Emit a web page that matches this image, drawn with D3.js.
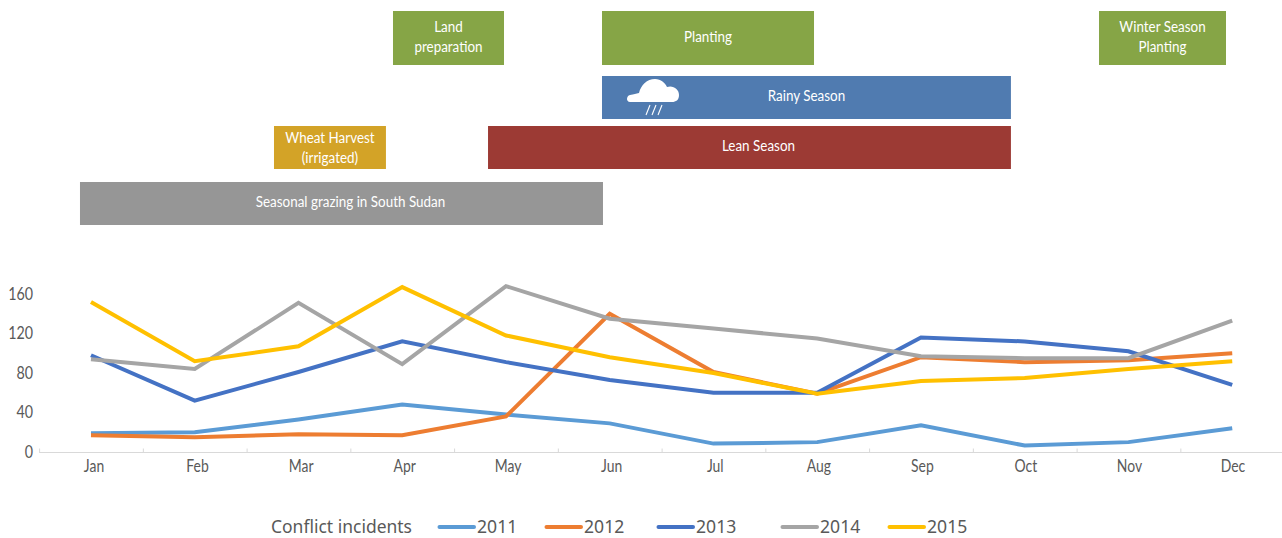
<!DOCTYPE html>
<html><head><meta charset="utf-8">
<script src="https://cdn.jsdelivr.net/npm/d3@7"></script>
<style>
html,body{margin:0;padding:0;background:#fff}
svg{display:block}
text{font-family:Lato,"Noto Sans",sans-serif}
</style></head><body><svg id="c" width="1282" height="538"></svg>
<script>
const months=["Jan","Feb","Mar","Apr","May","Jun","Jul","Aug","Sep","Oct","Nov","Dec"];
const years=["2011","2012","2013","2014","2015"];
const v2011=[19,20,33,48,38,29,8.5,10,27,6.5,10,24];
const v2012=[17,15,18,17,36,140,81,59,96,91,93,100];
const v2013=[98,52,81,112,91,73,60,60,116,112,102,68];
const v2014=[94,84,151,89,168,135,125,115,97,95,95,133];
const v2015=[152,92,107,167,118,96,80,59,72,75,84,92];
const yTicks=[0,40,80,120,160];
const colors=["#5B9BD5","#ED7D31","#4472C4","#A5A5A5","#FFC000"];
const seasonNames=[["Land","preparation"],["Planting"],["Winter Season","Planting"],["Rainy Season"],["Lean Season"],["Wheat Harvest","(irrigated)"],["Seasonal grazing in South Sudan"]];
const seasonStart=[3.411,5.4255,10.216,5.4255,4.327,2.264,0.394];
const seasonEnd=[4.481,7.469,11.440,9.367,9.367,3.343,5.435];
const seasonRow=[0,0,0,1,2,2,3];
const seasonColor=["#86A546","#86A546","#86A546","#507BB0","#9C3A34","#D3A327","#969696"];

const svg=d3.select("#c");
const x=d3.scaleLinear().domain([0,12]).range([39.1,1284.1]);
const y=d3.scaleLinear().domain([0,160]).range([452,294]);
const rowTop=d3.scaleOrdinal().domain([0,1,2,3]).range([11,76,126,182]);
const rowH=d3.scaleOrdinal().domain([0,1,2,3]).range([54,43,43,43]);
const TK=0.84;

// season boxes
const labelDx=[0,0,0,0,9,0,9];
const labelDy=[0,0,0,-1,-1,1.5,-1];
seasonNames.forEach((lines,i)=>{
  const r=seasonRow[i],x0=x(seasonStart[i]),x1=x(seasonEnd[i]),t=rowTop(r),h=rowH(r);
  svg.append("rect").attr("x",x0).attr("y",t).attr("width",x1-x0).attr("height",h).attr("fill",seasonColor[i]);
  const cx=(x0+x1)/2+labelDx[i],cy=t+h/2-1+labelDy[i];
  lines.forEach((l,j)=>{
    svg.append("text").attr("transform",`translate(${cx},${cy+(j-(lines.length-1)/2)*20}) scale(${TK},1)`).attr("dy","0.33em")
      .attr("text-anchor","middle").attr("fill","#fff").attr("font-size",16).text(l);
  });
});

// cloud icon
const ic=svg.append("g").attr("transform","translate(626,79)").attr("fill","#fff");
ic.append("path").attr("d","M4 23 C0 23 0 17 4 16 C8 15 10 15 13 14 C15 6 21 0 29 0 C35 0 39 4 41 8 C47 6 53 10 53 16 C53 21 50 23 46 23 Z");
[0,1,2].forEach(i=>ic.append("line").attr("x1",20+i*6).attr("y1",36).attr("x2",24+i*6).attr("y2",26)
  .attr("stroke","#fff").attr("stroke-width",1.1));

// axes
const gx=svg.append("g").attr("transform",`translate(0,${y(0)+0.5})`)
  .call(d3.axisBottom(x).tickValues(d3.range(0,13)).tickSize(4).tickFormat(""));
gx.selectAll("path,line").attr("stroke","#D9D9D9").attr("stroke-width",1);
gx.select(".domain").attr("d",`M${x(0)},0H1282`);
gx.selectAll(".tick line").attr("y2",-4);

const xm=d3.scalePoint().domain(months).range([93.5,1232.5]);
const gm=svg.append("g").attr("transform","translate(0,466)")
  .call(d3.axisBottom(xm).tickSize(0).tickPadding(0));
gm.select(".domain").remove();
gm.selectAll("text").attr("y",0).attr("dy","0.33em").attr("transform","scale(0.82,1)")
  .attr("font-size",17).attr("fill","#595959").style("font-family","Lato");

const gy=svg.append("g").attr("transform","translate(33,0)")
  .call(d3.axisLeft(y).tickValues(yTicks).tickSize(0).tickPadding(0));
gy.select(".domain").remove();
gy.selectAll("text").attr("x",0).attr("transform","scale(0.84,1)")
  .attr("font-size",17).attr("fill","#595959").style("font-family","Lato");

// lines
const line=d3.line().x((d,i)=>x(i+0.5)).y(d=>y(d));
[v2011,v2012,v2013,v2014,v2015].forEach((s,i)=>{
  svg.append("path").attr("d",line(s)).attr("fill","none").attr("stroke",colors[i]).attr("stroke-width",4);
});

// legend
const ly=527;
svg.append("text").attr("x",271).attr("y",ly).attr("dy","0.33em").attr("font-size",18).attr("fill","#595959")
  .attr("textLength",141).attr("lengthAdjust","spacingAndGlyphs")
  .style("font-family",'"Noto Sans"').text("Conflict incidents");
const lx=[438,545,657,781,888];
years.forEach((yr,i)=>{
  svg.append("line").attr("x1",lx[i]+1.5).attr("x2",lx[i]+36).attr("y1",ly).attr("y2",ly)
    .attr("stroke",colors[i]).attr("stroke-width",4).attr("stroke-linecap","round");
  svg.append("text").attr("x",lx[i]+39).attr("y",ly).attr("dy","0.33em").attr("font-size",17.6).attr("fill","#595959")
    .style("font-family",'"Noto Sans"').text(yr);
});
</script></body></html>
